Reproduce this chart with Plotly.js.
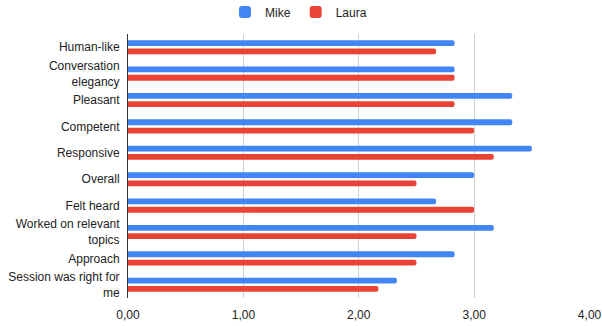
<!DOCTYPE html>
<html>
<head>
<meta charset="utf-8">
<script src="https://cdn.plot.ly/plotly-3.0.1.min.js"></script>
<style>html,body{margin:0;padding:0;background:#fff;}#chart{width:602px;height:326px;}</style>
</head>
<body>
<div id="chart"></div>
<script>
const categories = ["Human-like", "Conversation<br>elegancy", "Pleasant", "Competent", "Responsive", "Overall", "Felt heard", "Worked on relevant<br>topics", "Approach", "Session was right for<br>me"];
const mikeValues = [2.83, 2.83, 3.33, 3.33, 3.50, 3.00, 2.67, 3.17, 2.83, 2.33];
const lauraValues = [2.67, 2.83, 2.83, 3.00, 3.17, 2.50, 3.00, 2.50, 2.50, 2.17];
const xTicks = [0, 1, 2, 3, 4];

const traces = [
  {type: 'bar', orientation: 'h', name: 'Mike', x: mikeValues, y: categories,
   marker: {color: '#4285F4', cornerradius: 3}, hoverinfo: 'none'},
  {type: 'bar', orientation: 'h', name: 'Laura', x: lauraValues, y: categories,
   marker: {color: '#EA4335', cornerradius: 3}, hoverinfo: 'none'}
];

const layout = {
  width: 602, height: 326,
  margin: {l: 128, r: 12, t: 34, b: 28, autoexpand: false},
  paper_bgcolor: '#fff', plot_bgcolor: '#fff',
  font: {family: 'Arial, "Liberation Sans", sans-serif', size: 12, color: '#222'},
  separators: ', ',
  barmode: 'group', bargap: 0.37, bargroupgap: 0.3,
  showlegend: true,
  legend: {orientation: 'h', x: 0.21, xanchor: 'left', y: 1.083, yanchor: 'middle',
           font: {size: 12, color: '#222'}, itemwidth: 30},
  xaxis: {range: [0, 4.004], tickvals: xTicks, tickformat: '.2f', showgrid: true, gridcolor: '#d0d0d0',
          zeroline: false, showline: false, ticks: '', ticklabelstandoff: 8, tickfont: {size: 12, color: '#222'}, fixedrange: true,
          automargin: false, ticklabeloverflow: 'allow'},
  yaxis: {autorange: 'reversed', showgrid: false, showline: true, linecolor: '#333', linewidth: 1,
          ticks: '', ticklabelstandoff: 5, tickfont: {size: 12, color: '#222'}, fixedrange: true, automargin: false}
};

Plotly.newPlot('chart', traces, layout, {staticPlot: true});
</script>
</body>
</html>
